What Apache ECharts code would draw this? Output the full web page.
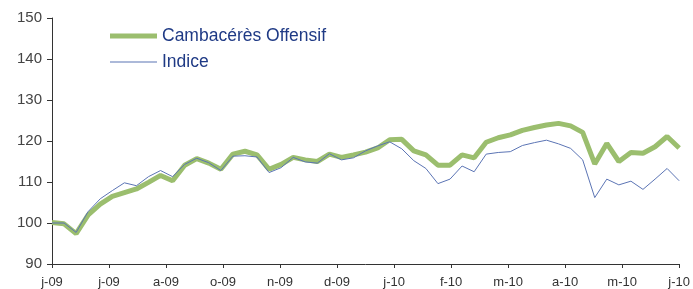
<!DOCTYPE html>
<html>
<head>
<meta charset="utf-8">
<script src="https://cdn.jsdelivr.net/npm/echarts@6/dist/echarts.min.js"></script>
<style>
  html, body { margin: 0; padding: 0; background: #fff; }
  #chart { width: 693px; height: 289px; }
</style>
</head>
<body>
<div id="chart"></div>
<script>
// weekly values, 53 points
const offensif = [
  100.1, 99.8, 97.4, 102.0, 104.6, 106.5, 107.4, 108.3, 109.9, 111.6,
  110.3, 114.1, 115.7, 114.6, 113.1, 116.8, 117.5, 116.6, 113.1, 114.3,
  116.0, 115.4, 115.0, 116.8, 116.0, 116.6, 117.3, 118.3, 120.3, 120.4,
  117.6, 116.6, 114.1, 114.1, 116.6, 115.9, 119.7, 120.8, 121.5, 122.6,
  123.3, 123.9, 124.3, 123.7, 122.1, 114.4, 119.4, 115.0, 117.2, 117.0,
  118.6, 121.1, 118.3
]
const indice = [
  100.0, 100.0, 97.7, 102.8, 105.9, 107.9, 109.8, 109.1, 111.3, 112.8,
  111.3, 114.3, 115.8, 114.7, 112.8, 116.3, 116.4, 116.1, 112.3, 113.5,
  116.0, 114.9, 114.6, 116.9, 115.4, 115.9, 117.6, 118.8, 119.8, 118.1,
  115.2, 113.3, 109.6, 110.7, 113.9, 112.5, 116.8, 117.2, 117.4, 118.9,
  119.6, 120.2, 119.3, 118.2, 115.4, 106.2, 110.7, 109.3, 110.2, 108.2,
  110.7, 113.3, 110.3
]
const xLabels = ['j-09', 'j-09', 'a-09', 'o-09', 'n-09', 'd-09', 'j-10', 'f-10', 'm-10', 'a-10', 'm-10', 'j-10']

const lastIndex = offensif.length - 1
const step = lastIndex / (xLabels.length - 1)

const chart = echarts.init(document.getElementById('chart'))
const font = '"Liberation Sans", Arial, sans-serif'
const green = '#9bbe6e'
const blue = '#5b74b4'

function points(values) {
  return values.map((v, i) => [i, v])
}

function legendBox(name, top, thickness) {
  return {
    data: [name],
    orient: 'vertical',
    left: 105,
    top,
    icon: 'rect',
    itemWidth: 47,
    itemHeight: thickness,
    textStyle: { color: '#1f3a85', fontSize: 17.5, fontFamily: font }
  }
}

chart.setOption({
  animation: false,
  textStyle: { fontFamily: font },
  grid: { left: 52, right: 10, top: 18, bottom: 25 },
  legend: [
    legendBox('Cambacérès Offensif', 22, 5),
    legendBox('Indice', 48, 1)
  ],
  xAxis: {
    type: 'value',
    min: 0,
    max: lastIndex,
    interval: step,
    axisLine: { lineStyle: { color: '#333', width: 1 } },
    axisTick: { show: true, length: 4, lineStyle: { color: '#333' } },
    axisLabel: {
      color: '#333',
      fontSize: 13,
      margin: 12,
      showMaxLabel: true,
      formatter: v => xLabels[Math.round(v / step)] || ''
    },
    splitLine: { show: false }
  },
  yAxis: {
    type: 'value',
    min: 90,
    max: 150,
    interval: 10,
    axisLine: { show: true, lineStyle: { color: '#333', width: 1 } },
    axisTick: { show: true, length: 5, lineStyle: { color: '#333' } },
    axisLabel: { color: '#444', fontSize: 15, margin: 10 },
    splitLine: { show: false }
  },
  series: [
    {
      name: 'Cambacérès Offensif',
      type: 'line',
      data: points(offensif),
      symbol: 'none',
      lineStyle: { color: green, width: 5 },
      itemStyle: { color: green },
      z: 2
    },
    {
      name: 'Indice',
      type: 'line',
      data: points(indice),
      symbol: 'none',
      lineStyle: { color: blue, width: 1 },
      itemStyle: { color: blue },
      z: 3
    }
  ]
})
</script>
</body>
</html>
